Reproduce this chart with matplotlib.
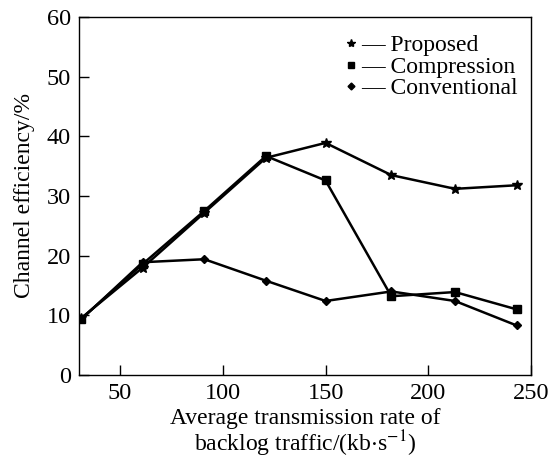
import matplotlib
matplotlib.use("Agg")
import matplotlib.pyplot as plt
from matplotlib.lines import Line2D

plt.rcParams['font.family'] = ['Liberation Serif', 'DejaVu Serif']
plt.rcParams['mathtext.fontset'] = 'stix'

x = [31, 61, 91, 121, 150, 182, 213, 243]
proposed = [9.5, 18.0, 27.2, 36.4, 38.9, 33.5, 31.2, 31.8]
compression = [9.4, 18.6, 27.5, 36.7, 32.6, 13.2, 13.9, 11.0]
conventional = [9.3, 18.9, 19.4, 15.8, 12.4, 14.0, 12.4, 8.3]
series_names = ["Proposed", "Compression", "Conventional"]

fig = plt.figure(figsize=(5.54, 4.61), dpi=100)
ax = fig.add_axes([0.1426, 0.1866, 0.8159, 0.7765])

lw = 1.8
ax.plot(x, proposed, color='black', lw=lw, marker='*', ms=7)
ax.plot(x, compression, color='black', lw=lw, marker='s', ms=6)
ax.plot(x, conventional, color='black', lw=lw, marker='D', ms=4.5)

ax.set_xlim(30, 250)
ax.set_ylim(0, 60)
ax.set_xticks([50, 100, 150, 200, 250])
ax.set_yticks([0, 10, 20, 30, 40, 50, 60])
ax.tick_params(direction='in', length=7, width=1, labelsize=17.5, top=False, right=False, pad=6)
for s in ax.spines.values():
    s.set_linewidth(1.0)

ax.set_ylabel("Channel efficiency/%", fontsize=17, labelpad=8)
ax.set_xlabel("Average transmission rate of\nbacklog traffic/(kb$\\cdot$s$^{-1}$)", fontsize=17, labelpad=3, linespacing=0.95)

handles = [Line2D([], [], color='black', marker=m, ms=s, ls='none') for m, s in [('*', 6), ('s', 5), ('D', 3.5)]]
leg = ax.legend(handles, ["\u2014 " + n for n in series_names], loc='upper right', frameon=False,
                fontsize=17, handlelength=0.5, handletextpad=0.2, labelspacing=0.0,
                borderaxespad=0.2, bbox_to_anchor=(1.003, 0.99))

fig.savefig("out.png", dpi=100)
